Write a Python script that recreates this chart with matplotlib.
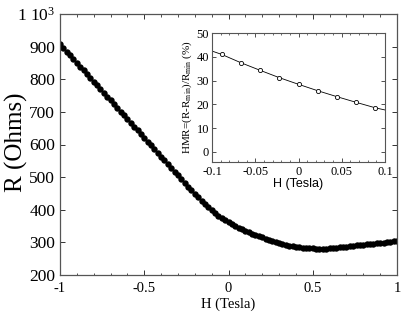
import numpy as np
import matplotlib
matplotlib.use('Agg')
import matplotlib.pyplot as plt
from matplotlib.ticker import MultipleLocator, FixedLocator, FixedFormatter

plt.rcParams['font.family'] = ['Liberation Serif', 'DejaVu Serif']
plt.rcParams['mathtext.fontset'] = 'custom'
plt.rcParams['mathtext.rm'] = 'Liberation Serif'
plt.rcParams['mathtext.it'] = 'Liberation Serif:italic'
plt.rcParams['axes.unicode_minus'] = False

# main sweep: R (Ohms), field steps of 0.02 T from -1 to 1
r_ohms = [908, 896, 885, 874, 862, 850, 839, 828, 816, 804,
          793, 782, 770, 758, 747, 736, 724, 712, 701, 690,
          678, 666, 655, 644, 632, 620, 609, 598, 586, 574,
          563, 552, 540, 528, 517, 505, 494, 482, 471, 460,
          449, 438, 428, 417, 407, 398, 390, 382, 375, 369,
          363, 357, 351, 345, 340, 336, 332, 327, 323, 319,
          315, 311, 307, 303, 300, 297, 295, 292, 290, 288,
          287, 285, 284, 283, 282, 282, 281, 281, 281, 281,
          282, 282, 283, 285, 286, 287, 288, 290, 291, 292,
          293, 294, 295, 296, 297, 298, 299, 300, 302, 303,
          305]
h_tesla = np.linspace(-1, 1, len(r_ohms))

# inset: HMR (%) near zero field
h_inset_line = [-0.1, -0.0889, -0.0667, -0.0444, -0.0222, 0.0, 0.0222, 0.0444, 0.0667, 0.0889, 0.1]
hmr_line = [42.4, 41.0, 37.5, 34.3, 31.2, 28.4, 25.7, 23.2, 20.8, 18.5, 17.6]
h_inset_pts = [-0.0889, -0.0667, -0.0444, -0.0222, 0.0, 0.0222, 0.0444, 0.0667, 0.0889]
hmr_pts = [41.0, 37.5, 34.3, 31.2, 28.4, 25.7, 23.2, 20.8, 18.5]

main_yticks = [200, 300, 400, 500, 600, 700, 800, 900, 1000]
main_ylabels = ['200', '300', '400', '500', '600', '700', '800', '900', r'1 10$^3$']
main_xticks = [-1, -0.5, 0, 0.5, 1]
main_xlabels = ['-1', '-0.5', '0', '0.5', '1']
inset_xticks = [-0.1, -0.05, 0, 0.05, 0.1]
inset_xlabels = ['-0.1', '-0.05', '0', '0.05', '0.1']

fig = plt.figure(figsize=(4.15, 3.19), dpi=100)
ax = fig.add_axes([60/415, 44/319, 337/415, 261/319])
ax.plot(h_tesla, r_ohms, 'o', color='black', markersize=4.6, markeredgewidth=0)
ax.set_xlim(-1, 1)
ax.set_ylim(200, 1000)
ax.yaxis.set_major_locator(FixedLocator(main_yticks))
ax.yaxis.set_major_formatter(FixedFormatter(main_ylabels))
ax.xaxis.set_major_locator(FixedLocator(main_xticks))
ax.xaxis.set_major_formatter(FixedFormatter(main_xlabels))
ax.xaxis.set_minor_locator(MultipleLocator(0.1))
ax.tick_params(which='both', direction='in', top=True, right=True, colors='#333333', labelcolor='black')
ax.tick_params(which='major', length=3.5, width=0.7)
ax.tick_params(which='minor', length=1.8, width=0.6)
ax.tick_params(axis='x', pad=5, labelsize=10.5)
ax.tick_params(axis='y', pad=3.5, labelsize=12.5)
for s in ax.spines.values():
    s.set_color('#555555')
    s.set_linewidth(0.9)
ax.set_xlabel('H (Tesla)', fontsize=10.5, labelpad=1.5)
ax.set_ylabel('R (Ohms)', fontsize=18)
ax.yaxis.set_label_coords(-0.095, 0.51)

ins = fig.add_axes([212/415, 157/319, 173/415, 129/319])
ins.plot(h_inset_line, hmr_line, '-', color='black', lw=0.6)
ins.plot(h_inset_pts, hmr_pts, 'o', color='black', markerfacecolor='white', markersize=3, markeredgewidth=0.6)
ins.set_xlim(-0.1, 0.1)
ins.set_ylim(-4.3, 50)
ins.yaxis.set_major_locator(FixedLocator([0, 10, 20, 30, 40, 50]))
ins.xaxis.set_major_locator(FixedLocator(inset_xticks))
ins.xaxis.set_major_formatter(FixedFormatter(inset_xlabels))
ins.xaxis.set_minor_locator(MultipleLocator(0.01))
ins.tick_params(which='both', direction='in', top=True, right=True, labelsize=9, colors='#333333', labelcolor='black')
ins.tick_params(which='major', length=3, width=0.6)
ins.tick_params(which='minor', length=1.5, width=0.5)
ins.tick_params(axis='x', pad=3)
ins.tick_params(axis='y', pad=2)
for s in ins.spines.values():
    s.set_color('#555555')
    s.set_linewidth(0.8)
ins.set_xlabel('H (Tesla)', fontsize=9, family=['Liberation Sans', 'DejaVu Sans'], labelpad=0)
ins.set_ylabel(r'HMR=(R-R$_{\rm min}$)/R$_{\rm min}$ (%)', fontsize=8, labelpad=2)

fig.savefig('out.png', dpi=100)
